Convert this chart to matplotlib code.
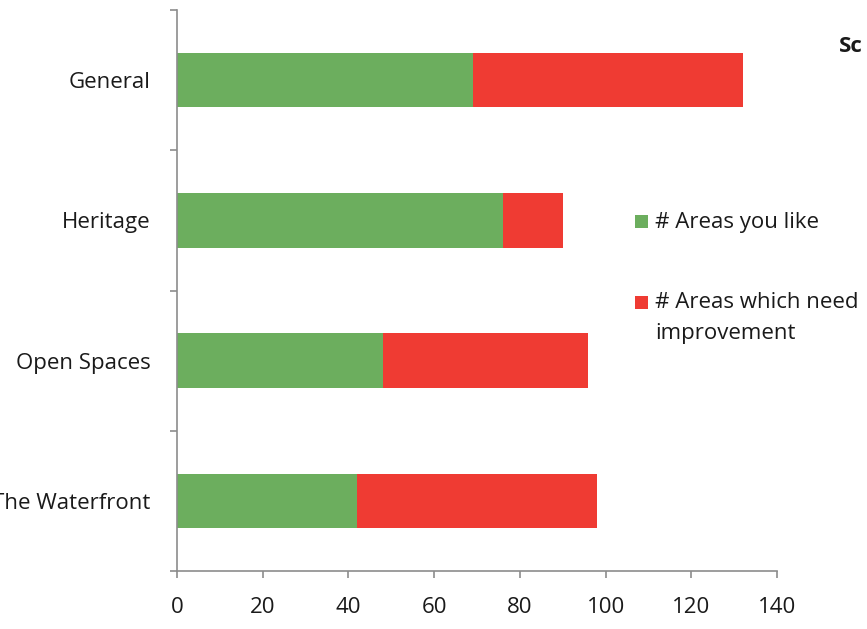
import matplotlib
matplotlib.use("Agg")
import matplotlib.pyplot as plt
from matplotlib.patches import Rectangle
from matplotlib.ticker import FixedLocator, NullFormatter

categories = ["General", "Heritage", "Open Spaces", "The Waterfront"]
areas_like = [69, 76, 48, 42]
areas_improve = [63, 14, 48, 56]
series_labels = ["# Areas you like", "# Areas which need\nimprovement"]
x_ticks = [0, 20, 40, 60, 80, 100, 120, 140]

GREEN = "#6cae5e"
RED = "#ef3b33"
AXIS = "#8c8c8c"
TXT = "#1a1a1a"
FONT = ["Open Sans", "DejaVu Sans"]
plt.rcParams['font.family'] = FONT
FS = 16
W, H = 867, 629

fig = plt.figure(figsize=(8.67, 6.29), dpi=100)
ax = fig.add_axes([177/W, 1 - 571/H, 600/W, 561/H])

y = list(range(len(categories)))
b1 = ax.barh(y, areas_like, height=0.39, color=GREEN, label=series_labels[0])
b2 = ax.barh(y, areas_improve, left=areas_like, height=0.39, color=RED, label=series_labels[1])

ax.set_ylim(len(categories) - 0.5, -0.5)
ax.set_xlim(0, 140)
ax.set_xticks(x_ticks)
ax.set_yticks(y)
ax.set_yticklabels(categories)
ax.yaxis.set_minor_locator(FixedLocator([i - 0.5 for i in range(len(categories) + 1)]))
ax.yaxis.set_minor_formatter(NullFormatter())

for s in ["top", "right"]:
    ax.spines[s].set_visible(False)
for s in ["left", "bottom"]:
    ax.spines[s].set_color(AXIS)
    ax.spines[s].set_linewidth(1.2)

ax.tick_params(axis='y', which='major', length=0, pad=19, labelsize=FS, colors=TXT)
ax.tick_params(axis='y', which='minor', length=5, width=1.2, color=AXIS)
ax.tick_params(axis='x', which='major', length=5, width=1.2, color=AXIS, pad=14, labelsize=FS, labelcolor=TXT)

# legend (drawn manually to match the reference layout)
legend_rows = [(b1, 222, series_labels[0], 222), (b2, 302, series_labels[1], 318)]
for bars, sq_y, label, txt_y in legend_rows:
    sq = 13
    fig.add_artist(Rectangle(((635) / W, 1 - (sq_y + sq / 2) / H), sq / W, sq / H,
                             transform=fig.transFigure, color=bars.patches[0].get_facecolor(), lw=0))
    fig.text(655 / W, 1 - txt_y / H, label, fontsize=FS, color=TXT, va='center', ha='left',
             linespacing=1.58)

fig.text(839/W, 1 - 46/H, "Sc", fontsize=16, fontweight='bold', va='center', ha='left', color=TXT)

fig.savefig("out.png", dpi=100, facecolor="white")
